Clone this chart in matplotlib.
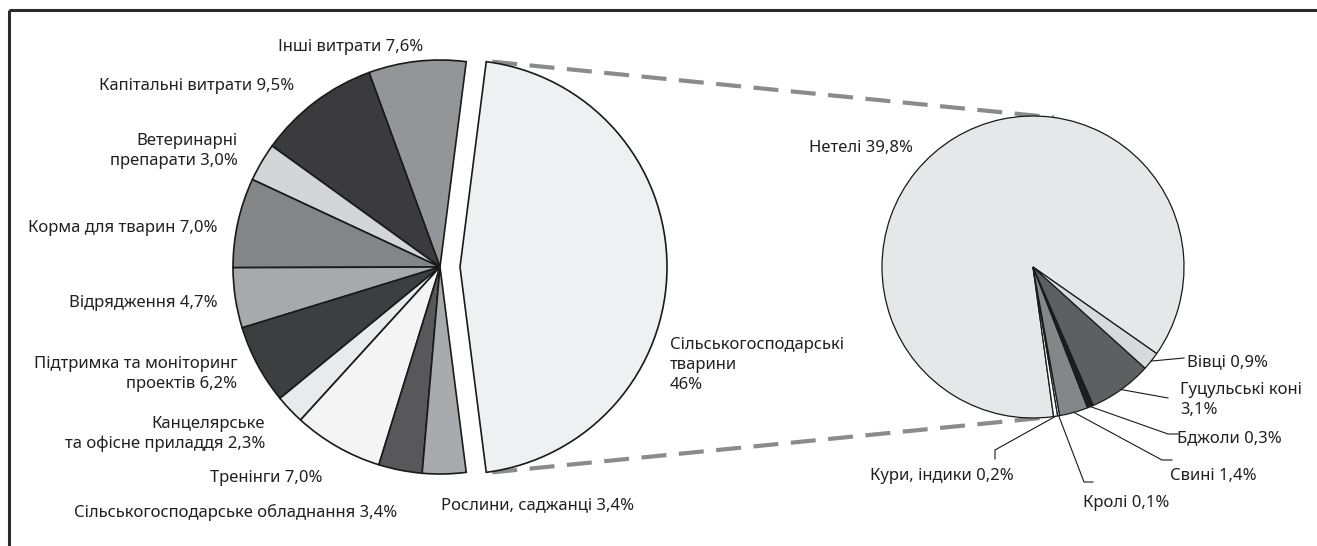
import numpy as np
import matplotlib
matplotlib.use("Agg")
import matplotlib.pyplot as plt

W, H = 1317, 546

# ---- data: budget split (left pie, counterclockwise from the exploded slice)
left_labels = [
    "Сільськогосподарські\nтварини\n46%",
    "Інші витрати 7,6%",
    "Капітальні витрати 9,5%",
    "Ветеринарні\nпрепарати 3,0%",
    "Корма для тварин 7,0%",
    "Відрядження 4,7%",
    "Підтримка та моніторинг\nпроектів 6,2%",
    "Канцелярське\nта офісне приладдя 2,3%",
    "Тренінги 7,0%",
    "Сільськогосподарське обладнання 3,4%",
    "Рослини, саджанці 3,4%",
]
left_values = [46.0, 7.6, 9.5, 3.0, 7.0, 4.7, 6.2, 2.3, 7.0, 3.4, 3.4]
left_colors = ["#EFF0F2", "#949598", "#3B3B3D", "#D4D5D7", "#848588", "#A8A9AC",
               "#3D3E40", "#E9EAEB", "#F4F4F5", "#58585A", "#A9AAAD"]

# ---- data: livestock breakdown (right pie, counterclockwise)
right_labels = [
    "Нетелі 39,8%",
    "Кури, індики 0,2%",
    "Кролі 0,1%",
    "Свині 1,4%",
    "Бджоли 0,3%",
    "Гуцульські коні\n3,1%",
    "Вівці 0,9%",
]
right_values = [39.8, 0.2, 0.1, 1.4, 0.3, 3.1, 0.9]
right_colors = ["#E6E7E8", "#FFFFFF", "#FFFFFF", "#858689", "#1E1E1E", "#5E5F61", "#D8D9DB"]

# ---- layout (pixel coords, y measured from top)
left_center, left_radius = (440, 267), 207
right_center, right_radius = (1033, 267), 151
explode_px = 20

# label anchor (x, y, ha)
left_label_pos = [
    (670, 365, "left"), (423, 47, "right"), (294, 86, "right"), (238, 151, "right"),
    (218, 228, "right"), (218, 303, "right"), (237, 374, "right"), (265, 434, "right"),
    (322, 478, "right"), (397, 512, "right"), (441, 505, "left"),
]
right_label_pos = [
    (809, 148, "left"), (870, 476, "left"), (1083, 503, "left"), (1170, 476, "left"),
    (1177, 438, "left"), (1180, 400, "left"), (1187, 362, "left"),
]
# leader line bends/ends for small slices (None = no leader)
right_leaders = [
    None,
    [(995, 450), (995, 459)],
    [(1084, 482), (1093, 482)],
    [(1162, 460), (1172, 460)],
    [(1168, 434), (1178, 434)],
    [(1168, 398)],
    [(1184, 358)],
]


def px(x, y):
    return x, H - y


plt.rcParams["font.family"] = ["Noto Sans", "DejaVu Sans"]
fig = plt.figure(figsize=(W / 100, H / 100), dpi=100)
ax = fig.add_axes([0, 0, 1, 1])

start_left = -left_values[0] / sum(left_values) * 180
explode = [explode_px] + [0] * (len(left_values) - 1)
wl, _ = ax.pie(left_values, colors=left_colors, startangle=start_left, explode=explode,
               center=px(*left_center), radius=left_radius, counterclock=True,
               wedgeprops=dict(edgecolor="#1a1a1a", linewidth=1.2))

start_right = -35
wr, _ = ax.pie(right_values, colors=right_colors, startangle=start_right,
               center=px(*right_center), radius=right_radius, counterclock=True,
               wedgeprops=dict(edgecolor="#1a1a1a", linewidth=0.9))

# dashed connectors from the exploded slice to the detail pie
big = wl[0]
cx, cy = big.center
for ang_l, ang_r in [(big.theta2, 82), (big.theta1, -84)]:
    x0 = cx + big.r * np.cos(np.radians(ang_l)) + 6
    y0 = cy + big.r * np.sin(np.radians(ang_l))
    rx, ry = px(*right_center)
    x1 = rx + right_radius * np.cos(np.radians(ang_r))
    y1 = ry + right_radius * np.sin(np.radians(ang_r))
    ax.plot([x0, x1], [y0, y1], color="#8A8B8D", lw=3, linestyle=(0, (6, 3)),
            solid_capstyle="butt", zorder=0)

txt = dict(fontsize=12, color="#231F20", va="center", linespacing=1.3)
for lab, (x, y, ha) in zip(left_labels, left_label_pos):
    ax.text(*px(x, y), lab, ha=ha, multialignment=ha, **txt)

for w, lab, (x, y, ha), lead in zip(wr, right_labels, right_label_pos, right_leaders):
    ax.text(*px(x, y), lab, ha=ha, multialignment=ha, **txt)
    if lead is None:
        continue
    mid = np.radians((w.theta1 + w.theta2) / 2)
    sx = w.center[0] + w.r * np.cos(mid)
    sy = w.center[1] + w.r * np.sin(mid)
    pts = [(sx, sy)] + [px(*p) for p in lead]
    ax.plot([p[0] for p in pts], [p[1] for p in pts], color="#1a1a1a", lw=0.8)

# frame: top and left rules only
ax.plot([9, W], [H - 10, H - 10], color="#2a2a2a", lw=2.2, solid_capstyle="butt")
ax.plot([9, 9], [H - 10, 0], color="#2a2a2a", lw=2.2, solid_capstyle="butt")

ax.set_xlim(0, W)
ax.set_ylim(0, H)
ax.set_aspect("equal")
ax.axis("off")

fig.savefig("out.png", dpi=100, facecolor="white")
